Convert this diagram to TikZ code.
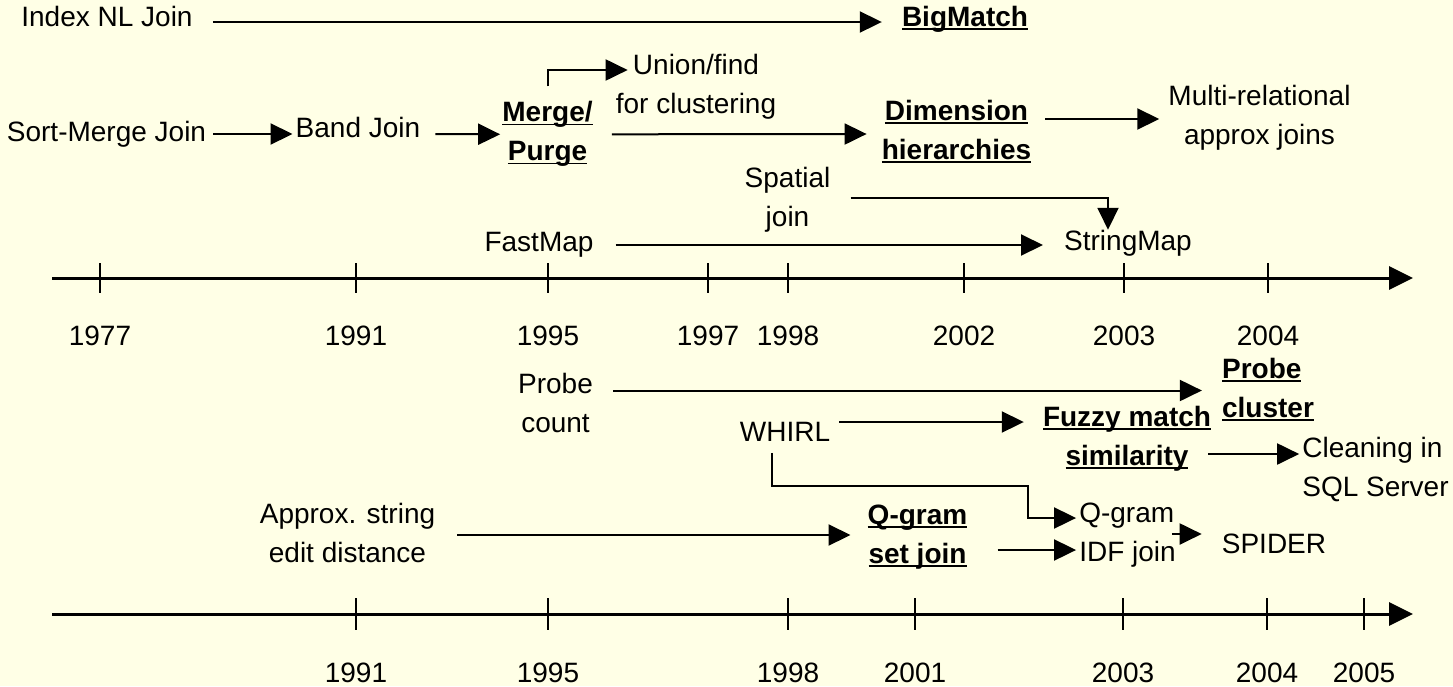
\documentclass[tikz,border=0pt]{standalone}
\usepackage{fontspec}
\setmainfont{Liberation Sans}
\usetikzlibrary{arrows.meta}

\definecolor{paper}{RGB}{255,255,230}
% bold text with a low underline
\newcommand{\ulbf}[1]{\setbox0\hbox{\bfseries #1}\rlap{\rule[-3.5pt]{\wd0}{1.8pt}}\box0}

\begin{document}
\begin{tikzpicture}[x=1pt, y=-1pt,
  lbl/.style={inner sep=0pt, align=center, font=\fontsize{28}{39}\selectfont},
  arr/.style={line width=2pt, -{Triangle[length=22pt,width=21pt]}},
  axis/.style={line width=3pt, -{Triangle[length=24pt,width=23pt]}},
  tick/.style={line width=2pt}]
\fill[paper] (0,0) rectangle (1453,686);
\useasboundingbox (0,0) rectangle (1453,686);

% upper timeline
\node[lbl] (inl) at (107,16) {Index NL Join};
\node[lbl] (bm) at (965,19) {\ulbf{BigMatch}};
\node[lbl] (smj) at (106.5,134) {Sort-Merge Join};
\node[lbl] (band) at (358,127.5) {Band Join};
\node[lbl] (mp) at (547.5,134.3) {\ulbf{Merge/}\\\ulbf{Purge}};
\node[lbl] (uf) at (696,86.3) {Union/find\\for clustering};
\node[lbl] (dh) at (956.5,131.8) {\ulbf{Dimension}\\\ulbf{hierarchies}};
\node[lbl] (mr) at (1259.5,118) {Multi-relational\\approx joins};
\node[lbl] (sj) at (787.5,199.4) {Spatial\\join};
\node[lbl] (fm) at (539,244.3) {FastMap};
\node[lbl] (sm) at (1128,243) {StringMap};

\draw[arr] ([shift={(20,6)}]inl.east) -- ([shift={(-20,3)}]bm.west);
\draw[arr] ([shift={(7,0)}]smj.east) -- ([shift={(-3,6.5)}]band.west);
\draw[arr] ([shift={(15,6.5)}]band.east) -- ([shift={(-2,0)}]mp.west);
\draw[arr] ([shift={(0,-15)}]mp.north) |- ([shift={(12,-16.3)}]uf.west);
\draw[arr] ([shift={(19,0)}]mp.east) -- ([shift={(-15,2.2)}]dh.west);
\draw[arr] ([shift={(14,-12.8)}]dh.east) -- ([shift={(-9,1)}]mr.west);
\draw[arr] ([shift={(20,-1.4)}]sj.east) -| ([shift={(-20,0)}]sm.north);
\draw[arr] ([shift={(22,0.7)}]fm.east) -- ([shift={(-21,2)}]sm.west);

\draw[axis] (52,278) -- (1413,278);
\foreach \x/\yr in {100/1977,356/1991,548/1995,708/1997,788/1998,964/2002,1124/2003,1268/2004}{
  \draw[tick] (\x,263) -- (\x,293);
  \node[lbl] (t\yr) at (\x,336) {\yr};
}

% lower timeline
\node[lbl] (pc) at (555.5,402.5) {Probe\\count};
\node[lbl, align=left] (pcl) at (1268,389.5) {\ulbf{Probe}\\\ulbf{cluster}};
\node[lbl] (wh) at (785,432) {WHIRL};
\node[lbl] (fz) at (1127,438.3) {\ulbf{Fuzzy match}\\\ulbf{similarity}};
\node[lbl, align=left] (cl) at (1375.5,469) {Cleaning in\\SQL Server};
\node[lbl] (asd) at (347.5,533) {Approx. string\\edit distance};
\node[lbl] (qs) at (917.5,537) {\ulbf{Q-gram}\\\ulbf{set join}};
\node[lbl, align=left] (qi) at (1127.5,535) {Q-gram\\IDF join};
\node[lbl] (sp) at (1274,544) {SPIDER};

\draw[arr] ([shift={(20,-12)}]pc.east) -- ([shift={(-20,1)}]pcl.west);
\draw[arr] ([shift={(9,-10)}]wh.east) -- ([shift={(-19,-16.3)}]fz.west);
\draw[arr] ([shift={(-3,15.7)}]fz.east) -- ([shift={(-3,-15)}]cl.west);
\draw[arr] ([shift={(-13,11)}]wh.south) |- ([shift={(-51,-49)}]qi.west) |- ([shift={(-3,-17)}]qi.west);
\draw[arr] ([shift={(30,13)}]qs.east) -- ([shift={(-3,15)}]qi.west);
\draw[arr] ([shift={(-4,-1)}]qi.east) -- ([shift={(-20,-10)}]sp.west);
\draw[arr] ([shift={(22,2)}]asd.east) -- ([shift={(-17,-2)}]qs.west);

\draw[axis] (52,614) -- (1413,614);
\foreach \x/\yr in {356/1991,548/1995,788/1998,915/2001,1123/2003,1267/2004,1364/2005}{
  \draw[tick] (\x,598) -- (\x,630);
  \node[lbl] (b\yr) at (\x,672.5) {\yr};
}
\end{tikzpicture}
\end{document}
